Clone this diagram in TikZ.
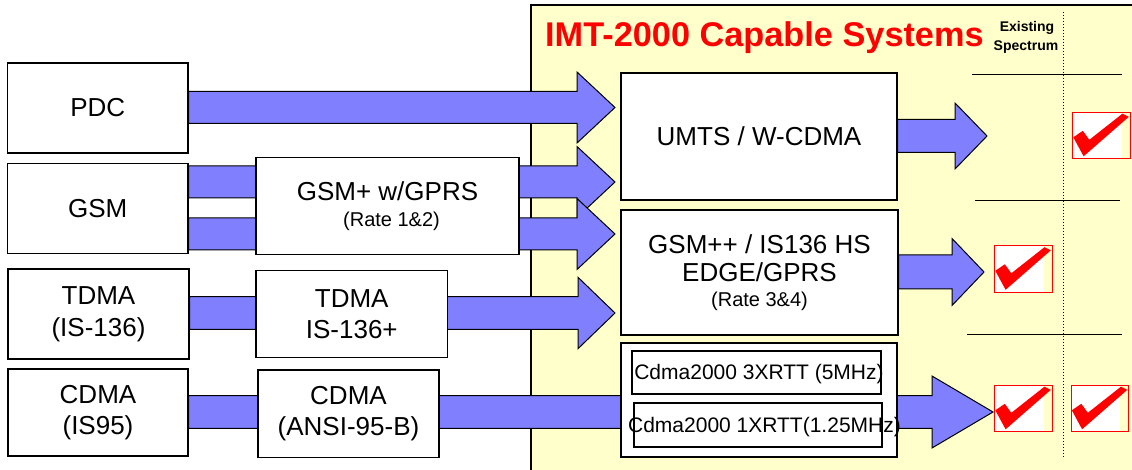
\documentclass[tikz,border=0pt]{standalone}
\usepackage{fontspec}
\setmainfont{Liberation Sans}
\usetikzlibrary{calc}
\definecolor{panelyellow}{HTML}{FFFFCC}
\definecolor{arrowblue}{HTML}{8080FF}
\definecolor{markred}{HTML}{FF0000}

\newcommand{\blockarrow}[5]{%
  \draw[blockarrowstyle] ($(#1)+(0,#3)$) -- ($(#2)+(-#5,#3)$) -- ($(#2)+(-#5,#4)$) -- (#2)
     -- ($(#2)+(-#5,-#4)$) -- ($(#2)+(-#5,-#3)$) -- ($(#1)+(0,-#3)$) -- cycle;}

\newcommand{\checkmarkbox}[3]{%
  \node[checkboxnode] (#1) at (#2,#3) {};
  \fill[white] (#1.north west) rectangle ($(#1.south west)!0.85!(#1.south east)$);
  \draw[markred, line width=0.8pt] (#1.north west) rectangle (#1.south east);
  \begin{scope}[shift={(#1.north west)}]
    \fill[markred] (0.5,25) -- (10,18.5) -- (16.5,27.5) -- (49.6,1.4) -- (56,4.5) -- (10.8,44) -- cycle;
  \end{scope}}

\tikzset{
  sysbox/.style={draw=black, line width=1.3pt, fill=white, inner sep=0pt, align=center,
                 font=\fontsize{26}{31.5}\selectfont},
  innerbox/.style={draw=black, line width=1.3pt, fill=white, inner sep=0pt},
  blockarrowstyle/.style={draw=black, line width=1pt, fill=arrowblue, line join=miter},
  checkboxnode/.style={draw=none, inner sep=0pt, minimum width=57pt, minimum height=46pt},
  rule/.style={draw=black, line width=1pt},
  headlabel/.style={inner sep=0pt, font=\bfseries\fontsize{14}{16}\selectfont},
}

\begin{document}
\begin{tikzpicture}[x=1pt,y=-1pt]
\useasboundingbox (0,0) rectangle (1132,470);
\clip (0,0) rectangle (1132,470);
\fill[white] (0,0) rectangle (1132,470);

% yellow panel
\fill[panelyellow] (531,5) rectangle (1150,490);
\draw[black, line width=1.6pt] (531,490) -- (531,5) -- (1150,5);

% title
\node[anchor=base west, inner sep=0pt, text=markred, font=\bfseries\fontsize{34.3}{40}\selectfont] (title) at (545,47) {IMT-2000 Capable Systems};
\node[headlabel, anchor=base] (exist) at (1027,32) {Existing};
\node[headlabel, anchor=base] (spect) at (1026,51) {Spectrum};

% dotted divider and rules
\coordinate (dtop) at (1063,12);
\coordinate (dbot) at (1063,458);
\draw[black, dotted, line width=1pt] (dtop) -- (dbot);
\coordinate (ra1) at (972,75);    \coordinate (ra2) at (1122,75);
\coordinate (rb1) at (975,200.5); \coordinate (rb2) at (1120,200.5);
\coordinate (rc1) at (967,334);   \coordinate (rc2) at (1122,334);
\draw[rule] (ra1) -- (ra2);
\draw[rule] (rb1) -- (rb2);
\draw[rule] (rc1) -- (rc2);

% left column node positions (placed before arrows, drawn again on top)
\path
  node[sysbox, minimum width=180.5pt, minimum height=90pt] (pdc)  at (97.75,108) {PDC}
  node[sysbox, minimum width=180.5pt, minimum height=90pt] (gsm)  at (97.75,208.5) {GSM}
  node[sysbox, minimum width=181pt, minimum height=90pt] (tdma) at (98.5,314) {TDMA\\(IS-136)}
  node[sysbox, minimum width=180pt, minimum height=87pt] (cdma) at (98,412.5) {CDMA\\(IS95)};

% arrow tips
\coordinate (tpdc)   at (615,107.5);
\coordinate (tgsma)  at (615,182);
\coordinate (tgsmb)  at (615,234);
\coordinate (ttdma)  at (615,313);
\coordinate (tcdma)  at (993,412);
\coordinate (tumts)  at (987,136);
\coordinate (tgsmpp) at (984,272);

\coordinate (spdc)  at (pdc.east |- tpdc);
\coordinate (sgsma) at (gsm.east |- tgsma);
\coordinate (sgsmb) at (gsm.east |- tgsmb);
\coordinate (stdma) at (tdma.east |- ttdma);
\coordinate (scdma) at (cdma.east |- tcdma);

\blockarrow{spdc}{tpdc}{16}{35.5}{38}
\blockarrow{sgsma}{tgsma}{16}{35.5}{38}
\blockarrow{sgsmb}{tgsmb}{16}{35.5}{38}
\blockarrow{stdma}{ttdma}{16.3}{35.7}{37}
\blockarrow{scdma}{tcdma}{16.3}{36}{61}

% boxes drawn on top
\path
  node[sysbox, minimum width=180.5pt, minimum height=90pt] (pdcf) at (pdc) {PDC}
  node[sysbox, minimum width=180.5pt, minimum height=90pt] (gsmf) at (gsm) {GSM}
  node[sysbox, minimum width=181pt, minimum height=90pt] (tdmaf) at (tdma) {TDMA\\(IS-136)}
  node[sysbox, minimum width=180pt, minimum height=87pt] (cdmaf) at (cdma) {CDMA\\(IS95)};

\node[sysbox, minimum width=263pt, minimum height=97pt, font=\fontsize{26}{31}\selectfont] (gprs) at (387.5,206)
  {GSM+ w/GPRS\\[-5pt]{\fontsize{20}{22}\selectfont\hspace*{8pt}(Rate 1\&2)}};
\node[sysbox, minimum width=191.5pt, minimum height=86.6pt] (tdmap) at (351.75,314) {TDMA\\IS-136+};
\node[sysbox, minimum width=181pt, minimum height=87.3pt] (ansi) at (348.5,413.7) {CDMA\\(ANSI-95-B)};

% IMT-2000 boxes
\node[sysbox, minimum width=276pt, minimum height=127pt] (umts) at (759,136.5) {UMTS / W-CDMA};
\node[sysbox, minimum width=277pt, minimum height=125pt, font=\fontsize{26}{28}\selectfont] (gsmpp) at (759.5,272.5)
  {GSM++ / IS136 HS\\EDGE/GPRS\\[-3.5pt]{\fontsize{20}{22}\selectfont (Rate 3\&4)}};
\node[innerbox, minimum width=276pt, minimum height=114pt] (cdmabox) at (759,400) {};
\node[innerbox, minimum width=249pt, minimum height=43pt] (c3x) at (756.5,372.5) {};
\node[innerbox, minimum width=248pt, minimum height=44pt] (c1x) at (758,425) {};
\node[inner sep=0pt, font=\fontsize{21}{25}\selectfont] (c3xt) at (759,374) {Cdma2000 3XRTT (5MHz)};
\node[inner sep=0pt, font=\fontsize{21}{25}\selectfont] (c1xt) at (764.5,427) {Cdma2000 1XRTT(1.25MHz)};

% arrows to right
\coordinate (sumts)  at (umts.east |- tumts);
\coordinate (sgsmpp) at (gsmpp.east |- tgsmpp);
\blockarrow{sumts}{tumts}{16.5}{33}{32}
\blockarrow{sgsmpp}{tgsmpp}{17}{33.5}{32}

% check marks
\checkmarkbox{cka}{1101.5}{135.5}
\checkmarkbox{ckb}{1023.5}{269}
\checkmarkbox{ckc}{1023.5}{408.5}
\checkmarkbox{ckd}{1100}{408.5}
\end{tikzpicture}
\end{document}
